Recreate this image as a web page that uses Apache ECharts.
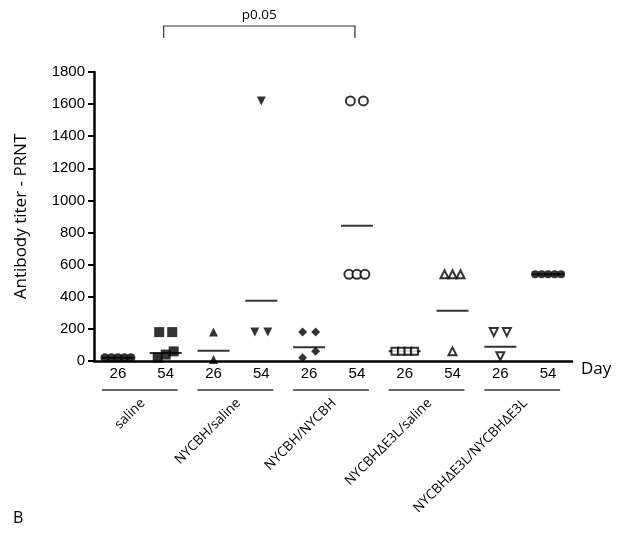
<!DOCTYPE html>
<html>
<head>
<meta charset="utf-8">
<script src="https://cdn.jsdelivr.net/npm/echarts@6/dist/echarts.min.js"></script>
<style>
  html, body { margin: 0; padding: 0; background: #fff; }
  #main { width: 633px; height: 550px; }
</style>
</head>
<body>
<div id="main"></div>
<script>
  // tick labels under each column
  const days = ['26', '54', '26', '54', '26', '54', '26', '54', '26', '54']
  const groups = ['saline', 'NYCBH/saline', 'NYCBH/NYCBH', 'NYCBHΔE3L/saline', 'NYCBHΔE3L/NYCBHΔE3L']

  // titers per animal
  const saline26 = [20, 20, 20, 20, 20]
  const saline54 = [180, 180, 60, 40, 20]
  const nycbhSaline26 = [180, 10]
  const nycbhSaline54 = [1620, 180, 180]
  const nycbhNycbh26 = [180, 180, 60, 20]
  const nycbhNycbh54 = [1620, 1620, 540, 540, 540]
  const e3lSaline26 = [60, 60, 60, 60]
  const e3lSaline54 = [540, 540, 540, 60]
  const e3lE3l26 = [180, 180, 30]
  const e3lE3l54 = [540, 540, 540, 540, 540]
  // the horizontal bars (group means as drawn)
  const means = [20, 50, 64, 375, 85, 843, 60, 313, 89, 540]

  const columns = [saline26, saline54, nycbhSaline26, nycbhSaline54, nycbhNycbh26,
    nycbhNycbh54, e3lSaline26, e3lSaline54, e3lE3l26, e3lE3l54]

  // symbol for each column
  const looks = [
    { symbol: 'circle', size: 9, open: false },
    { symbol: 'rect', size: 10, open: false },
    { symbol: 'triangle', size: 9, open: false },
    { symbol: 'triangle', size: 9, open: false, rotate: 180 },
    { symbol: 'diamond', size: 9, open: false },
    { symbol: 'circle', size: 9, open: true },
    { symbol: 'rect', size: 7, open: true },
    { symbol: 'triangle', size: 8, open: true },
    { symbol: 'triangle', size: 8, open: true, rotate: 180 },
    { symbol: 'circle', size: 8, open: false }
  ]

  // spread points that would sit on top of each other (like a dot plot)
  function spread (idx, vals) {
    const sorted = vals.slice().sort((a, b) => a - b)
    const rows = []
    sorted.forEach(v => {
      const last = rows[rows.length - 1]
      if (last && v - last[last.length - 1] < 50) last.push(v)
      else rows.push([v])
    })
    const out = []
    rows.forEach(row => {
      const n = row.length
      const step = n <= 2 ? 13 : (n === 3 ? 8 : 6.5)
      row.forEach((v, k) => {
        out.push({ value: [idx, v], symbolOffset: [(k - (n - 1) / 2) * step, 0] })
      })
    })
    return out
  }

  const series = columns.map((vals, i) => {
    const l = looks[i]
    return {
      type: 'scatter',
      clip: false,
      symbol: l.symbol,
      symbolSize: l.size,
      symbolRotate: l.rotate || 0,
      itemStyle: l.open
        ? { color: '#fff', borderColor: '#000', borderWidth: 2 }
        : { color: '#000' },
      data: spread(i, vals),
      z: 3
    }
  })
  series.push({
    type: 'scatter',
    clip: false,
    symbol: 'rect',
    symbolSize: [32, 2],
    itemStyle: { color: '#000' },
    data: means.map((m, i) => [i, m]),
    z: 2
  })

  const chart = echarts.init(document.getElementById('main'))
  chart.setOption({
    animation: false,
    grid: { left: 94, right: 61, top: 72, bottom: 189 },
    xAxis: {
      type: 'category',
      data: days,
      name: 'Day',
      nameLocation: 'end',
      nameGap: 9,
      nameTextStyle: { fontFamily: 'Open Sans', fontSize: 17, color: '#000', verticalAlign: 'top' },
      axisLine: { lineStyle: { color: '#000', width: 2.5 } },
      axisTick: { alignWithLabel: true, length: 6, lineStyle: { color: '#000', width: 2 } },
      axisLabel: { fontFamily: 'Liberation Sans', fontSize: 15, color: '#000', margin: 5 },
      splitLine: { show: false }
    },
    yAxis: {
      type: 'value',
      min: 0,
      max: 1800,
      interval: 200,
      name: 'Antibody titer - PRNT',
      nameLocation: 'middle',
      nameGap: 64,
      nameTextStyle: { fontFamily: 'Open Sans', fontSize: 17, color: '#000' },
      axisLine: { show: true, lineStyle: { color: '#000', width: 2.5 } },
      axisTick: { show: true, length: 6, lineStyle: { color: '#000', width: 2 } },
      axisLabel: { fontFamily: 'Liberation Sans', fontSize: 15, color: '#000', margin: 9, formatter: v => String(v) },
      splitLine: { show: false }
    },
    series: series
  })

  // group lines, rotated group names, bracket
  const px = i => chart.convertToPixel({ xAxisIndex: 0 }, i)
  const graphics = []
  groups.forEach((g, k) => {
    const x1 = px(2 * k)
    const x2 = px(2 * k + 1)
    graphics.push({
      type: 'line',
      shape: { x1: x1 - 16, y1: 390, x2: x2 + 12, y2: 390 },
      style: { stroke: '#333', lineWidth: 1.5 }
    })
    graphics.push({
      type: 'text',
      x: (x1 + x2) / 2 + 1,
      y: 401,
      rotation: Math.PI / 4,
      style: { text: g, fontFamily: 'Open Sans', fontSize: 13.5, fill: '#000', align: 'right', verticalAlign: 'middle' }
    })
  })
  const bx1 = px(1) - 2
  const bx2 = px(5) - 2
  graphics.push({
    type: 'polyline',
    shape: { points: [[bx1, 38], [bx1, 26], [bx2, 26], [bx2, 38]] },
    style: { stroke: '#333', lineWidth: 1.2, fill: null }
  })
  graphics.push({
    type: 'text',
    x: (bx1 + bx2) / 2,
    y: 15,
    style: { text: 'p0.05', fontFamily: 'Open Sans', fontSize: 13.5, fill: '#000', align: 'center', verticalAlign: 'middle' }
  })
  graphics.push({
    type: 'text',
    x: 13,
    y: 518,
    style: { text: 'B', fontFamily: 'Open Sans', fontSize: 16, fill: '#000', verticalAlign: 'middle' }
  })
  chart.setOption({ graphic: graphics })
</script>
</body>
</html>
